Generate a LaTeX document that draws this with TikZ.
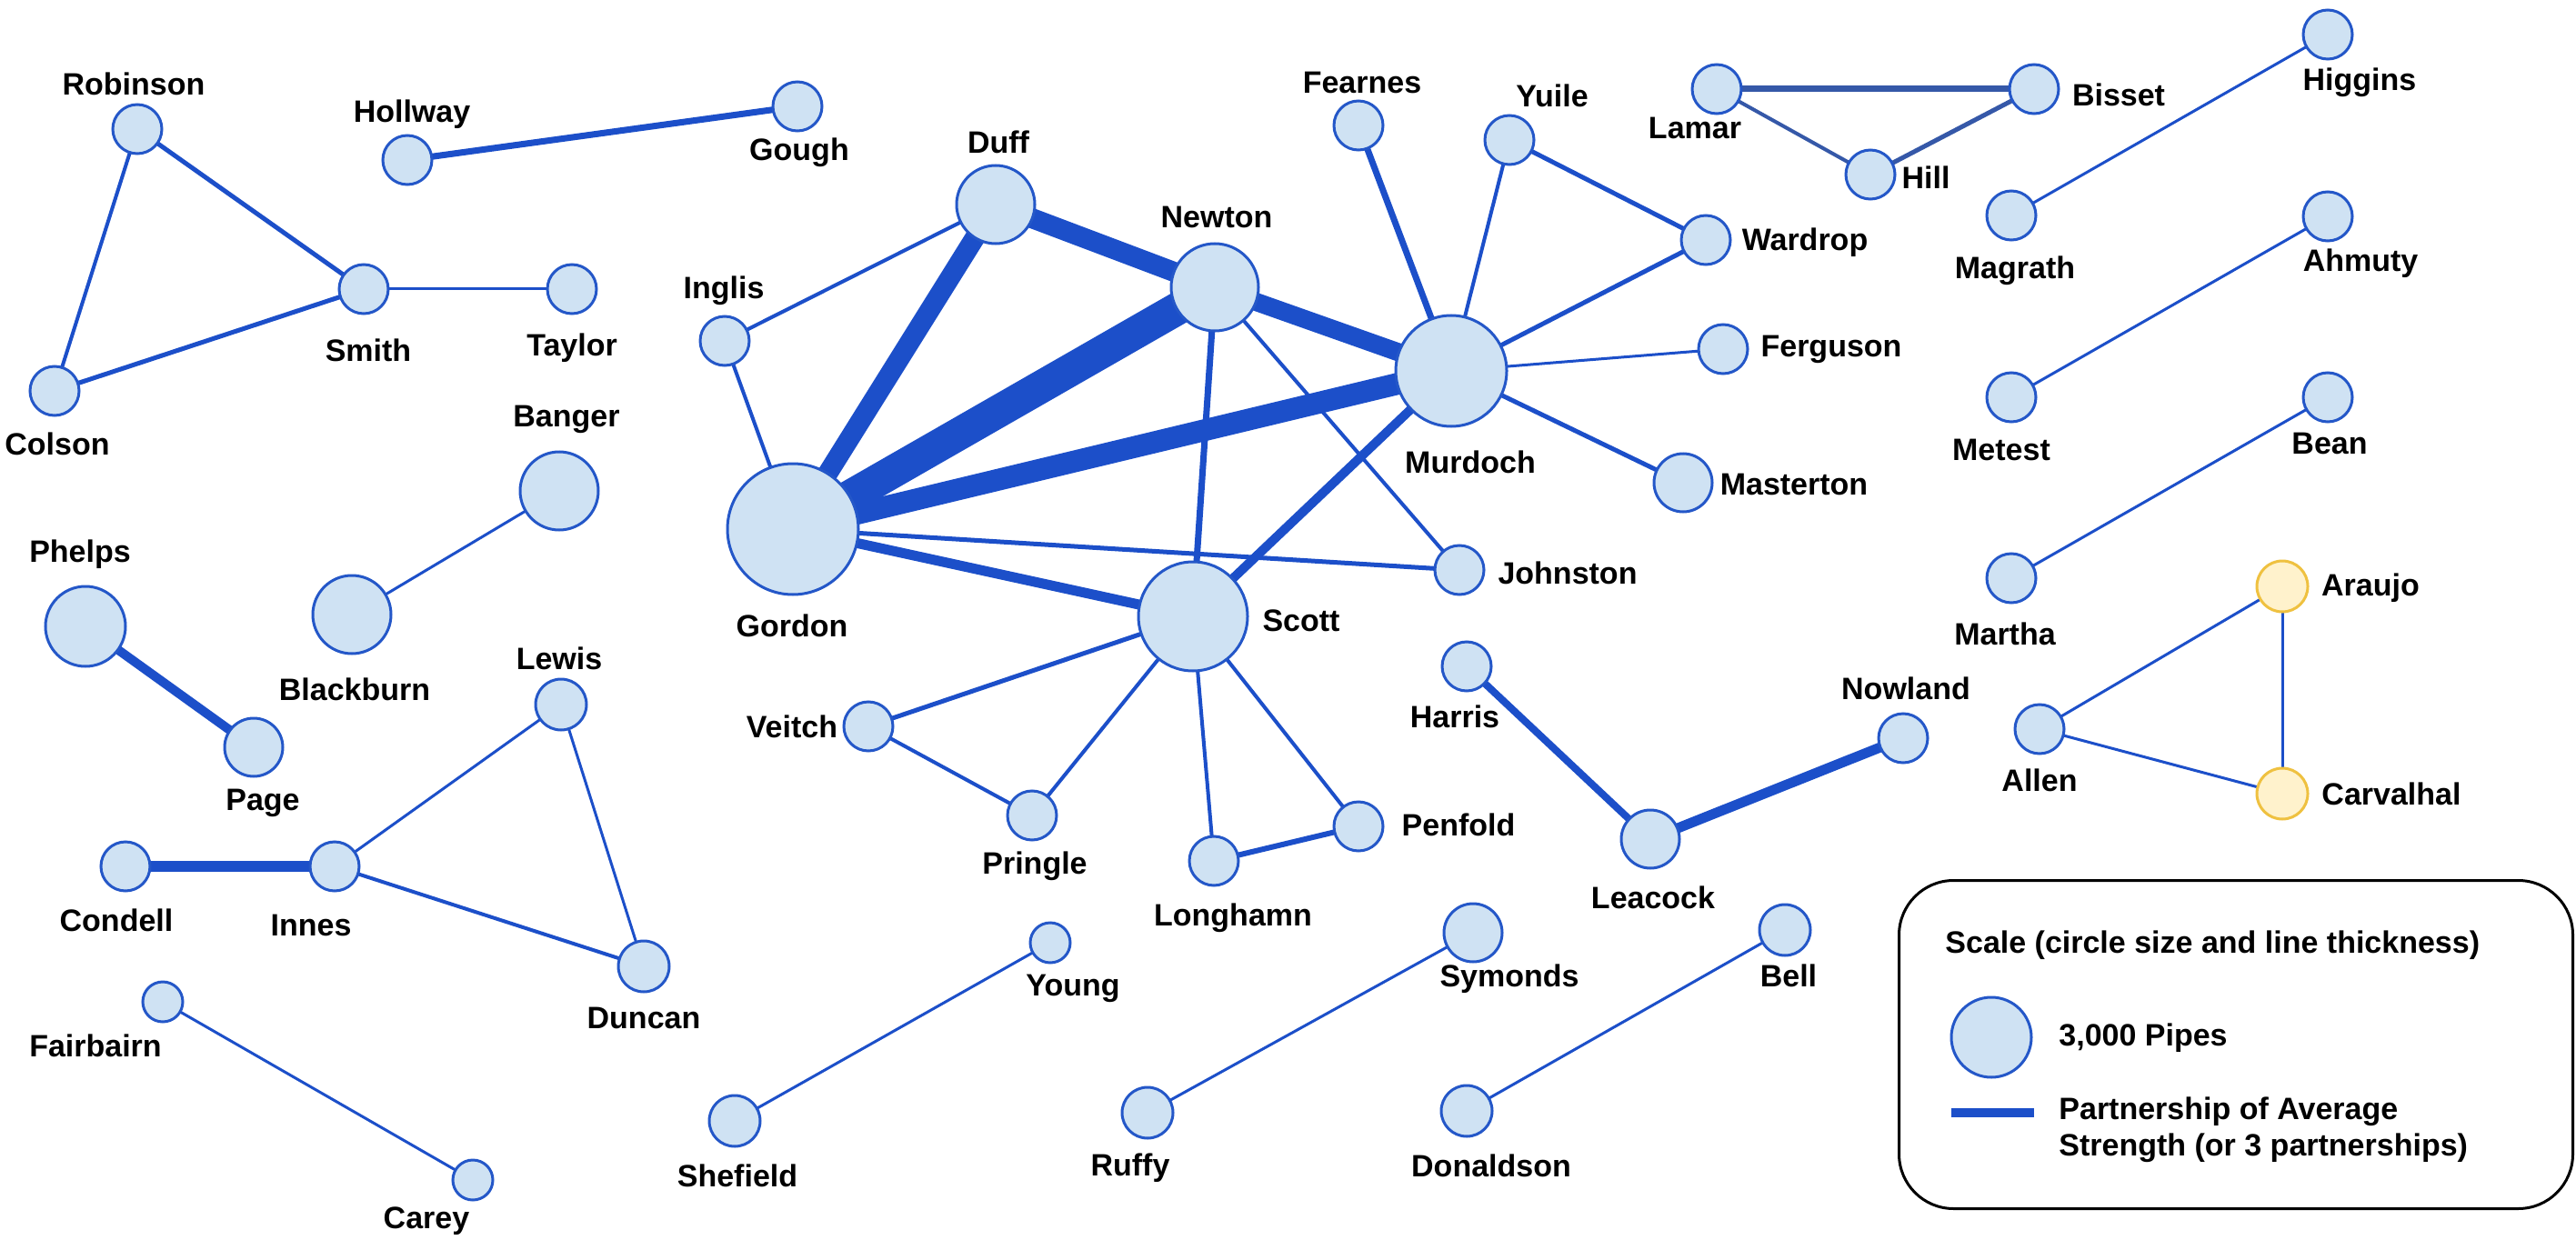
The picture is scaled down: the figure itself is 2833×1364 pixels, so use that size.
\documentclass[tikz,border=0pt]{standalone}
\usepackage{fontspec}
\setmainfont{Liberation Sans}
\usetikzlibrary{calc,positioning,backgrounds}

\definecolor{pipefill}{HTML}{CFE2F3}
\definecolor{pipeborder}{HTML}{2457C8}
\definecolor{pipeline}{HTML}{1C4FC9}
\definecolor{trioline}{HTML}{3558A8}
\definecolor{goldfill}{HTML}{FFF2CC}
\definecolor{goldborder}{HTML}{EFC140}

\tikzset{
  maker/.style={circle,draw=pipeborder,fill=pipefill,line width=1.5pt,inner sep=0pt},
  foreign/.style={maker,draw=goldborder,fill=goldfill},
  tag/.style={font=\bfseries\fontsize{17}{20}\selectfont,inner sep=0pt},
  partner/.style={draw=pipeline,line cap=butt},
}

\begin{document}
\begin{tikzpicture}[x=0.5pt,y=-0.5pt]
\useasboundingbox (0,0) rectangle (2833,1364);

\def\makers{Robinson/151/142/27,Hollway/448/176/27,Gough/877/117/27,Smith/400/318/27,
  Taylor/629/318/27,Colson/60/430/27,Inglis/797/375/27,Duff/1095/225/43,Newton/1336/316/48,
  Fearnes/1494/138/27,Yuile/1660/154/27,Murdoch/1596/408/61,Lamar/1888/98/27,Bisset/2237/98/27,
  Hill/2057/192/27,Higgins/2560/38/27,Magrath/2212/237/27,Wardrop/1876/264/27,
  Ferguson/1895/384/27,Ahmuty/2560/238/27,Metest/2212/437/27,Bean/2560/437/27,
  Banger/615/540/43,Blackburn/387/676/43,Phelps/94/689/44,Page/279/822/32,Gordon/872/582/72,
  Johnston/1605/627/27,Masterton/1851/531/32,Scott/1312/678/60,Martha/2212/636/27,
  Lewis/617/775/28,Veitch/955/799/27,Harris/1613/733/27,Nowland/2093/812/27,Allen/2243/802/27,
  Pringle/1135/897/27,Penfold/1494/909/27,Leacock/1815/923/32,Longhamn/1335/947/27,
  Condell/138/953/27,Innes/368/953/27,Duncan/708/1063/28,Young/1155/1037/22,
  Symonds/1620/1026/32,Bell/1963/1023/28,Fairbairn/179/1102/22,Shefield/808/1233/28,
  Ruffy/1262/1224/28,Donaldson/1613/1222/28,Carey/520/1298/22}
\foreach \n/\x/\y/\r in \makers
  \node [maker,minimum size=\r pt] (\n) at (\x,\y) {};

\node [foreign,minimum size=28pt] (Araujo) at (2510,645) {};
\node [foreign,minimum size=28pt] (Carvalhal) at (2510,873) {};

\def\tags{Robinson/147/92,Hollway/453/126,Gough/879/168,Smith/405/385,Taylor/629/383,
  Colson/63/488,Inglis/796/320,Duff/1098/156,Newton/1338/239,Fearnes/1498/91,Yuile/1707/105,
  Murdoch/1617/508,Lamar/1864/141,Bisset/2330/104,Hill/2118/195,Higgins/2595/91,
  Magrath/2216/298,Wardrop/1985/267,Ferguson/2014/384,Ahmuty/2596/290,Metest/2201/495,
  Bean/2562/488,Banger/623/461,Blackburn/390/758,Phelps/88/610,Page/289/883,Gordon/871/688,
  Johnston/1724/630,Masterton/1973/533,Scott/1431/683,Martha/2205/697,Araujo/2607/647,
  Lewis/615/724,Veitch/871/799,Harris/1600/788,Nowland/2096/757,Allen/2243/858,
  Carvalhal/2630/873,Pringle/1138/953,Penfold/1604/907,Leacock/1818/987,Longhamn/1356/1010,
  Condell/128/1012,Innes/342/1018,Duncan/708/1120,Young/1180/1087,Symonds/1660/1077,
  Bell/1967/1073,Fairbairn/105/1150,Shefield/811/1293,Ruffy/1243/1285,Donaldson/1640/1282,
  Carey/469/1343}
\foreach \n/\x/\y in \tags
  \node [tag] (t\n) at (\x,\y) {\n};

% partnerships, thickness = strength
\def\partners{Robinson/Smith/2.5,Robinson/Colson/2,Colson/Smith/2.5,Smith/Taylor/1.5,
  Hollway/Gough/3.5,Inglis/Duff/2,Inglis/Gordon/2,Duff/Gordon/11,Duff/Newton/11,
  Newton/Gordon/18,Newton/Murdoch/10,Gordon/Murdoch/12,Newton/Scott/3.5,Newton/Johnston/2,
  Gordon/Johnston/2.5,Gordon/Scott/5.5,Scott/Murdoch/5,Fearnes/Murdoch/3.5,Yuile/Murdoch/2,
  Yuile/Wardrop/2.5,Wardrop/Murdoch/2.5,Ferguson/Murdoch/1.5,Masterton/Murdoch/2.5,
  Higgins/Magrath/1.5,Ahmuty/Metest/1.5,Bean/Martha/1.5,Banger/Blackburn/1.5,Phelps/Page/5,
  Condell/Innes/6,Innes/Lewis/1.5,Innes/Duncan/2,Lewis/Duncan/1.5,Scott/Veitch/2.5,
  Veitch/Pringle/2,Scott/Pringle/2,Scott/Longhamn/2,Scott/Penfold/2,Longhamn/Penfold/3,
  Harris/Leacock/4,Leacock/Nowland/5.5,Allen/Araujo/1.5,Allen/Carvalhal/1.5,
  Araujo/Carvalhal/1.5,Fairbairn/Carey/1.5,Shefield/Young/1.5,Ruffy/Symonds/1.5,
  Donaldson/Bell/1.5}
\begin{scope}[on background layer]
\fill [white] (0,0) rectangle (2833,1364);
\foreach \a/\b/\w in \partners
  \draw [partner,line width=\w pt] (\a.center) -- (\b.center);
\draw [partner,draw=trioline,line width=3.5pt] (Lamar.center) -- (Bisset.center);
\draw [partner,draw=trioline,line width=2pt] (Lamar.center) -- (Hill.center);
\draw [partner,draw=trioline,line width=2.5pt] (Hill.center) -- (Bisset.center);
\end{scope}

% scale box
\node [draw,line width=1.5pt,rounded corners=30pt,minimum width=370.5pt,minimum height=180.5pt,
  anchor=north west] (legend) at (2087,967) {};
\node [tag,anchor=west] (ltitle) at (2139,1040) {Scale (circle size and line thickness)};
\node [maker,minimum size=44pt] (lpipe) at (2190,1141) {};
\node [tag,anchor=west] (lpipes) at (2264,1142) {3,000 Pipes};
\coordinate (lfrom) at (2146,1224);
\coordinate (lto) at (2237,1224);
\draw [partner,line width=5pt] (lfrom) -- (lto);
\node [tag,anchor=west,align=left] (lpartner) at (2264,1243)
  {Partnership of Average\\Strength (or 3 partnerships)};

\end{tikzpicture}
\end{document}
